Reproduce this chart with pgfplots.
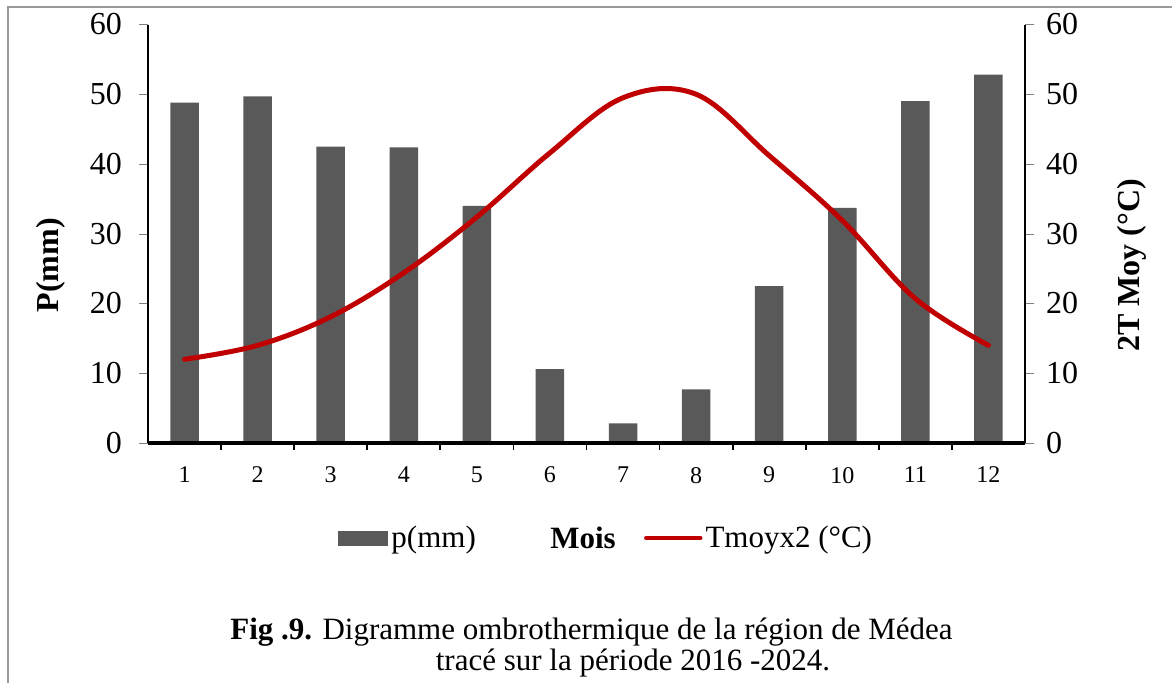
\documentclass[border=0pt]{standalone}
\usepackage{pgfplots}
\pgfplotsset{compat=1.18}
\usepackage{fontspec}
\setmainfont{Liberation Serif}
\definecolor{barc}{HTML}{595959}
\definecolor{linec}{HTML}{C00000}
\pgfplotsset{
  common/.style={
    at={(74pt,-221.5pt)}, anchor=south west, scale only axis,
    width=438.5pt, height=209.25pt,
    xmin=0.5, xmax=12.5, ymin=0, ymax=60,
    ytick={0,10,...,60},
    /pgf/number format/assume math mode=true,
    tick align=outside,
    major tick length=4.5pt,
    yticklabel style={font=\fontsize{16}{16}\selectfont},
    ylabel style={font=\fontsize{16}{16}\selectfont\bfseries, anchor=center},
    legend style={draw=none, fill=none, inner sep=0pt, outer sep=0pt,
      font=\fontsize{15.5}{15.5}\selectfont, legend cell align=left,
      nodes={inner sep=1.5pt}},
  }
}
\begin{document}
\begin{tikzpicture}
\useasboundingbox (0,0) rectangle (586pt,-341.5pt);
\draw[color=black!40, line width=0.8pt] (4pt,-3.5pt) rectangle (600pt,-360pt);
\begin{axis}[common,
  axis x line*=bottom, axis y line*=left,
  y axis line style={line width=0.9pt},
  x axis line style={line width=2pt},
  xtick={1,...,12},
  major x tick style={draw=none},
  minor xtick={1.5,2.5,...,11.5},
  minor x tick style={line width=0.9pt, black},
  minor tick length=3.5pt,
  xticklabel style={font=\fontsize{12}{12}\selectfont, yshift=-4pt},
  yticklabel style={xshift=-5pt},
  ylabel={P(mm)},
  ylabel style={at={(axis description cs:-0.1106,0.425)}},
  xlabel={Mois},
  xlabel style={at={(axis description cs:0.496,-0.227)}, anchor=center, font=\fontsize{15.5}{15.5}\selectfont\bfseries},
  legend style={at={(axis description cs:0.2172,-0.227)}, anchor=west},
]
\addplot[ybar, bar width=0.39, fill=barc, draw=none,
  legend image code/.code={\fill[barc] (0pt,-3.75pt) rectangle (25pt,3.75pt);}]
  coordinates {(1,48.8) (2,49.7) (3,42.5) (4,42.4) (5,34.0) (6,10.6) (7,2.8) (8,7.7) (9,22.5) (10,33.7) (11,49.0) (12,52.8)};
\addlegendentry{p(mm)}
\draw[black!45, line width=2pt] (axis description cs:0.005,-0.012) -- (axis description cs:1,-0.012);
\draw[black, line width=2pt] (axis description cs:0,0) -- (axis description cs:1,0);
\end{axis}
\begin{axis}[common,
  axis x line=none, axis y line*=right,
  y axis line style={line width=0.9pt},
  yticklabel style={xshift=2.5pt},
  ylabel={2T Moy (°C)},
  ylabel style={at={(axis description cs:1.122,0.425)}},
  legend style={at={(axis description cs:0.5656,-0.227)}, anchor=west},
]
\addplot[linec, line width=2.5pt, smooth, tension=0.6, line cap=round,
  legend image code/.code={\draw[linec, line width=2.25pt, line cap=round] (0pt,0pt) -- (27pt,0pt);}]
  coordinates {(1,12.0) (2,14.0) (3,18.1) (4,24.4) (5,32.4) (6,41.6) (7,49.5) (8,50.0) (9,41.2) (10,31.9) (11,20.7) (12,14.0)};
\addlegendentry{Tmoyx2 (°C)}
\end{axis}
\node[font=\fontsize{15.5}{15.5}\selectfont] at (295.75pt,-316pt) {\textbf{Fig .9.} Digramme ombrothermique de la région de Médea};
\node[font=\fontsize{15.5}{15.5}\selectfont] at (316.5pt,-331.5pt) {tracé sur la période 2016 -2024.};
\end{tikzpicture}
\end{document}
